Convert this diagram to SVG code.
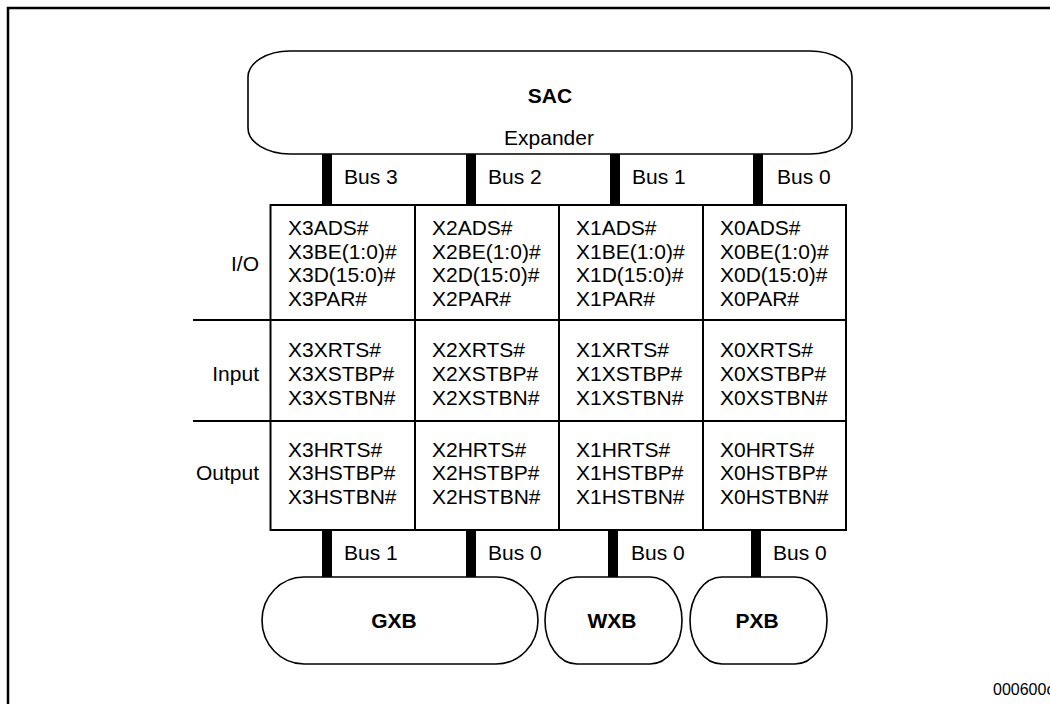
<svg xmlns="http://www.w3.org/2000/svg" width="1050" height="704" viewBox="0 0 1050 704">
  <style>
    text { font-family: "Liberation Sans", Arial, sans-serif; font-size: 21px; fill: #000; }
    .b { font-weight: bold; }
    .c { text-anchor: middle; }
    .r { text-anchor: end; }
    .shape { fill: #fff; stroke: #000; stroke-width: 1.6; }
    .grid { fill: none; stroke: #000; stroke-width: 2; }
    .bus { fill: #000; }
  </style>
  <rect width="1050" height="704" fill="#fff"/>
  <!-- open frame -->
  <path d="M8 704 V8 H1050" fill="none" stroke="#000" stroke-width="2.5"/>

  <!-- bus connectors -->
  <g id="connectors">
    <rect class="bus" x="322" y="154" width="10" height="51"/>
    <rect class="bus" x="466" y="154" width="10" height="51"/>
    <rect class="bus" x="610" y="154" width="10" height="51"/>
    <rect class="bus" x="753" y="154" width="10" height="51"/>
    <text x="344" y="184">Bus 3</text>
    <text x="488" y="184">Bus 2</text>
    <text x="632" y="184">Bus 1</text>
    <text x="777" y="184">Bus 0</text>

    <rect class="bus" x="322" y="530" width="10" height="47"/>
    <rect class="bus" x="466" y="530" width="10" height="47"/>
    <rect class="bus" x="608" y="530" width="10" height="47"/>
    <rect class="bus" x="751" y="530" width="10" height="47"/>
    <text x="344" y="560">Bus 1</text>
    <text x="488" y="560">Bus 0</text>
    <text x="631" y="560">Bus 0</text>
    <text x="773" y="560">Bus 0</text>
  </g>

  <g id="sac">
    <rect class="shape" x="248" y="51" width="604" height="103" rx="42" ry="26"/>
    <text class="b c" x="550" y="103">SAC</text>
    <text class="c" x="549" y="145">Expander</text>
  </g>

  <g id="signal-grid">
    <rect class="grid" x="270.5" y="205" width="575.5" height="325"/>
    <path class="grid" d="M415 205 V530 M559 205 V530 M703 205 V530 M193 320 H846 M193 421 H846"/>
    <text class="r" x="259" y="271">I/O</text>
    <text class="r" x="259" y="381">Input</text>
    <text class="r" x="259" y="480">Output</text>
  </g>

  <g id="bus3-signals">
    <text x="288" y="235">X3ADS#</text>
    <text x="288" y="259">X3BE(1:0)#</text>
    <text x="288" y="282">X3D(15:0)#</text>
    <text x="288" y="306">X3PAR#</text>
    <text x="288" y="357">X3XRTS#</text>
    <text x="288" y="381">X3XSTBP#</text>
    <text x="288" y="405">X3XSTBN#</text>
    <text x="288" y="457">X3HRTS#</text>
    <text x="288" y="480">X3HSTBP#</text>
    <text x="288" y="504">X3HSTBN#</text>
  </g>
  <g id="bus2-signals">
    <text x="432" y="235">X2ADS#</text>
    <text x="432" y="259">X2BE(1:0)#</text>
    <text x="432" y="282">X2D(15:0)#</text>
    <text x="432" y="306">X2PAR#</text>
    <text x="432" y="357">X2XRTS#</text>
    <text x="432" y="381">X2XSTBP#</text>
    <text x="432" y="405">X2XSTBN#</text>
    <text x="432" y="457">X2HRTS#</text>
    <text x="432" y="480">X2HSTBP#</text>
    <text x="432" y="504">X2HSTBN#</text>
  </g>
  <g id="bus1-signals">
    <text x="576" y="235">X1ADS#</text>
    <text x="576" y="259">X1BE(1:0)#</text>
    <text x="576" y="282">X1D(15:0)#</text>
    <text x="576" y="306">X1PAR#</text>
    <text x="576" y="357">X1XRTS#</text>
    <text x="576" y="381">X1XSTBP#</text>
    <text x="576" y="405">X1XSTBN#</text>
    <text x="576" y="457">X1HRTS#</text>
    <text x="576" y="480">X1HSTBP#</text>
    <text x="576" y="504">X1HSTBN#</text>
  </g>
  <g id="bus0-signals">
    <text x="720" y="235">X0ADS#</text>
    <text x="720" y="259">X0BE(1:0)#</text>
    <text x="720" y="282">X0D(15:0)#</text>
    <text x="720" y="306">X0PAR#</text>
    <text x="720" y="357">X0XRTS#</text>
    <text x="720" y="381">X0XSTBP#</text>
    <text x="720" y="405">X0XSTBN#</text>
    <text x="720" y="457">X0HRTS#</text>
    <text x="720" y="480">X0HSTBP#</text>
    <text x="720" y="504">X0HSTBN#</text>
  </g>

  <g id="gxb">
    <rect class="shape" x="262" y="577" width="276" height="87" rx="42" ry="43.5"/>
    <text class="b c" x="394" y="628">GXB</text>
  </g>
  <g id="wxb">
    <rect class="shape" x="545" y="577" width="137" height="87" rx="32" ry="43.5"/>
    <text class="b c" x="612" y="628">WXB</text>
  </g>
  <g id="pxb">
    <rect class="shape" x="690" y="577" width="137" height="87" rx="32" ry="43.5"/>
    <text class="b c" x="757" y="628">PXB</text>
  </g>

  <text x="993" y="695" style="font-size:16px">000600c</text>
</svg>
